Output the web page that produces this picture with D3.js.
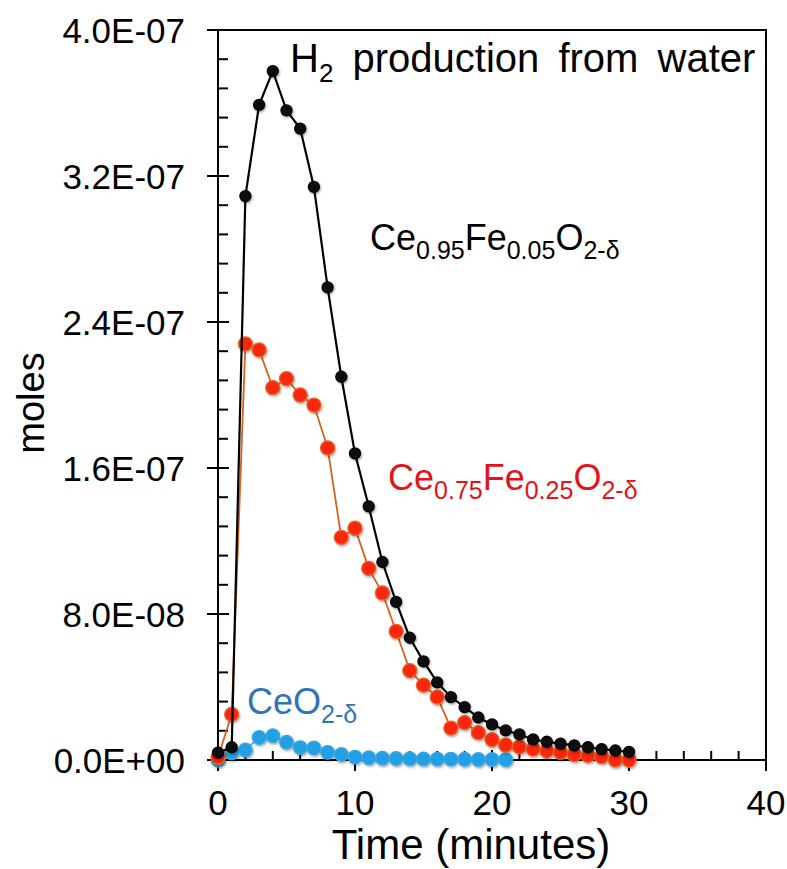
<!DOCTYPE html>
<html>
<head>
<meta charset="utf-8">
<script src="https://cdn.jsdelivr.net/npm/d3@7"></script>
<style>
  body { margin: 0; background: #fff; }
  text { font-family: "Liberation Sans", Arial, sans-serif; }
</style>
</head>
<body>
<div id="chart-area"></div>
<script>
// H2 production from water, moles vs time (values read in units of 1e-8 mol)
const timeMin = d3.range(0, 31);
const ceriaTime = d3.range(0, 22);

const fe05 = [0.4, 0.7, 30.9, 35.9, 37.75, 35.6, 34.6, 31.4, 25.9, 21.0, 16.8,
  13.9, 10.85, 8.66, 6.7, 5.4, 4.25, 3.45, 2.9, 2.33, 1.95,
  1.62, 1.4, 1.13, 1.0, 0.9, 0.8, 0.7, 0.6, 0.52, 0.44];
const fe25 = [0.15, 2.5, 22.8, 22.47, 20.4, 20.9, 20.0, 19.45, 17.1, 12.2, 12.7,
  10.5, 9.15, 7.05, 4.9, 4.1, 3.45, 1.75, 2.05, 1.5, 1.12,
  0.82, 0.72, 0.6, 0.5, 0.42, 0.3, 0.25, 0.18, 0.0, 0.0];
const ceria = [0.0, 0.4, 0.55, 1.23, 1.33, 0.97, 0.68, 0.66, 0.42, 0.3, 0.16,
  0.12, 0.1, 0.08, 0.07, 0.06, 0.05, 0.05, 0.04, 0.03, 0.03, 0.02];

const xTicks = [0, 10, 20, 30, 40];
const yTicks = [0, 8e-8, 1.6e-7, 2.4e-7, 3.2e-7, 4e-7];

const W = 787, H = 869;
const margin = { left: 218, right: 21, top: 30, bottom: 109 };
const width = W - margin.left - margin.right;
const height = H - margin.top - margin.bottom;

const svg = d3.select('#chart-area')
  .append('svg')
    .attr('width', W)
    .attr('height', H);

const defs = svg.append('defs');
defs.append('filter')
    .attr('id', 'shadow')
    .attr('x', '-50%').attr('y', '-50%')
    .attr('width', '200%').attr('height', '200%')
  .append('feDropShadow')
    .attr('dx', 1).attr('dy', 1.5)
    .attr('stdDeviation', 1.2)
    .attr('flood-color', '#000')
    .attr('flood-opacity', 0.35);

const area = svg.append('g')
  .attr('transform', 'translate(' + margin.left + ',' + margin.top + ')');

// Scales
const x = d3.scaleLinear().domain([0, 40]).range([0, width]);
const y = d3.scaleLinear().domain([0, 4e-7]).range([height, 0]);

function sci(v) {
  const parts = v.toExponential(1).split('e');
  const e = +parts[1];
  return parts[0] + 'E' + (e < 0 ? '-' : '+') + String(Math.abs(e)).padStart(2, '0');
}

// Frame (top and right)
area.append('path')
  .attr('d', 'M0,0H' + width + 'V' + height)
  .attr('fill', 'none')
  .attr('stroke', '#000')
  .attr('stroke-width', 2);

// Y axis
const yAxis = area.append('g').attr('class', 'y-axis');
yAxis.append('line')
  .attr('x1', 0).attr('x2', 0).attr('y1', 0).attr('y2', height)
  .attr('stroke', '#000').attr('stroke-width', 2);
const yMinor = d3.range(0, 25).map(i => i * 1.6e-8).filter((v, i) => i % 5 !== 0);
yAxis.selectAll('.minor')
  .data(yMinor)
  .enter().append('line')
    .attr('x1', 0).attr('x2', 10)
    .attr('y1', d => y(d)).attr('y2', d => y(d))
    .attr('stroke', '#000').attr('stroke-width', 2);
yAxis.selectAll('.major')
  .data(yTicks)
  .enter().append('line')
    .attr('x1', -11).attr('x2', d => d === 4e-7 ? 0 : 11)
    .attr('y1', d => y(d)).attr('y2', d => y(d))
    .attr('stroke', '#000').attr('stroke-width', 2);
yAxis.selectAll('.label')
  .data(yTicks)
  .enter().append('text')
    .attr('x', -33)
    .attr('y', d => y(d))
    .attr('dy', '0.36em')
    .attr('text-anchor', 'end')
    .attr('font-size', '35px')
    .text(d => sci(d));

// X axis
const xAxis = area.append('g')
  .attr('class', 'x-axis')
  .attr('transform', 'translate(0,' + height + ')');
xAxis.append('line')
  .attr('x1', 0).attr('x2', width)
  .attr('stroke', '#000').attr('stroke-width', 2);
const xMinor = d3.range(0, 41, 2).filter(v => v % 10 !== 0);
xAxis.selectAll('.minor')
  .data(xMinor)
  .enter().append('line')
    .attr('x1', d => x(d)).attr('x2', d => x(d))
    .attr('y1', 0).attr('y2', -9)
    .attr('stroke', '#000').attr('stroke-width', 2);
xAxis.selectAll('.major')
  .data(xTicks)
  .enter().append('line')
    .attr('x1', d => x(d)).attr('x2', d => x(d))
    .attr('y1', d => d === 0 ? 0 : -10).attr('y2', 11)
    .attr('stroke', '#000').attr('stroke-width', 2);
xAxis.selectAll('.label')
  .data(xTicks)
  .enter().append('text')
    .attr('x', d => x(d))
    .attr('y', 55)
    .attr('text-anchor', 'middle')
    .attr('font-size', '35px')
    .text(d => d);

// Axis titles
svg.append('text')
  .attr('x', 471)
  .attr('y', 859)
  .attr('text-anchor', 'middle')
  .attr('font-size', '42px')
  .text('Time (minutes)');

svg.append('text')
  .attr('transform', 'translate(44,403) rotate(-90)')
  .attr('text-anchor', 'middle')
  .attr('font-size', '38px')
  .text('moles');

// Series
const series = [
  { name: 'ceria', t: ceriaTime, v: ceria, line: '#2ba3e3', lw: 1.5, fill: '#22a0e6', stroke: '#3aa6e0', r: 6.8 },
  { name: 'fe25', t: timeMin, v: fe25, line: '#d4631e', lw: 1.8, fill: '#fa2608', stroke: '#e2652a', r: 7 },
  { name: 'fe05', t: timeMin, v: fe05, line: '#000', lw: 2.2, fill: '#111', stroke: '#000', r: 5.5 }
];

const lineGen = d3.line()
  .x(d => x(d[0]))
  .y(d => y(d[1] * 1e-8));

series.forEach(s => {
  const pts = s.t.map((t, i) => [t, s.v[i]]);
  const g = area.append('g').attr('class', s.name);
  g.append('path')
    .datum(pts)
    .attr('d', lineGen)
    .attr('fill', 'none')
    .attr('stroke', s.line)
    .attr('stroke-width', s.lw);
  g.selectAll('circle')
    .data(pts)
    .enter().append('circle')
      .attr('cx', d => x(d[0]))
      .attr('cy', d => y(d[1] * 1e-8))
      .attr('r', s.r)
      .attr('fill', s.fill)
      .attr('stroke', s.stroke)
      .attr('stroke-width', 1.3)
      .attr('filter', 'url(#shadow)');
});

// Annotations
function formula(parent, xPos, yPos, color, parts) {
  const t = parent.append('text')
    .attr('x', xPos)
    .attr('y', yPos)
    .attr('font-size', '36px')
    .attr('fill', color);
  parts.forEach(p => {
    const sub = p[1];
    t.append('tspan')
      .attr('font-size', sub ? '25px' : '36px')
      .attr('dy', sub ? 9 : -9)
      .text(p[0]);
  });
  // undo the offset on the first part
  t.select('tspan').attr('dy', 0);
  return t;
}

const title = svg.append('text')
  .attr('x', 290)
  .attr('y', 72)
  .attr('font-size', '40px')
  .attr('fill', '#000');
title.append('tspan').text('H');
title.append('tspan').attr('font-size', '26px').attr('dy', 10).text('2');
title.append('tspan').attr('dy', -10).attr('word-spacing', '8px').text(' production from water');

formula(svg, 370, 250, '#000', [['Ce', false], ['0.95', true], ['Fe', false], ['0.05', true], ['O', false], ['2-δ', true]]);
formula(svg, 388, 490, '#e3121b', [['Ce', false], ['0.75', true], ['Fe', false], ['0.25', true], ['O', false], ['2-δ', true]]);
formula(svg, 247, 714, '#2e75b6', [['CeO', false], ['2-δ', true]]);
</script>
</body>
</html>
